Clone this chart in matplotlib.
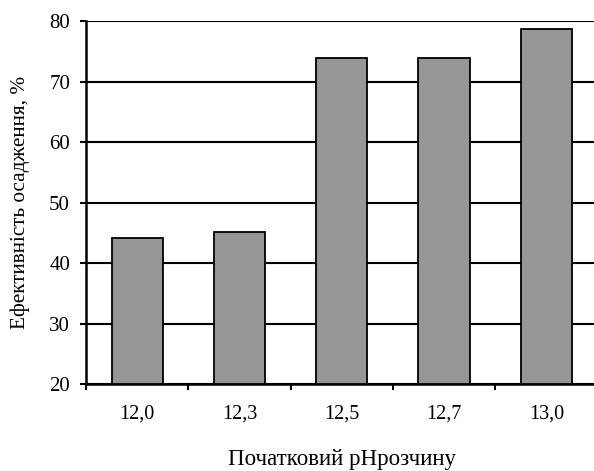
import matplotlib.pyplot as plt

# ------------------ DATA ------------------
ph_labels = ["12,0", "12,3", "12,5", "12,7", "13,0"]
efficiency = [44.1, 45.1, 73.9, 73.9, 78.7]
y_ticks = [20, 30, 40, 50, 60, 70, 80]

plt.rcParams['font.family'] = ['Liberation Serif', 'DejaVu Serif']

# ------------------ PLOT ------------------
fig = plt.figure(figsize=(5.94, 4.71), dpi=100)
ax = fig.add_axes([0.1448, 0.1847, 0.861, 0.7707])

x = list(range(len(ph_labels)))
ax.bar(x, [v - 20 for v in efficiency], bottom=20, width=0.5,
       color="#969696", edgecolor="black", linewidth=1.3, zorder=3)

ax.set_xlim(-0.5, len(ph_labels) - 0.5)
ax.set_ylim(20, 80)
ax.set_yticks(y_ticks)
ax.yaxis.grid(True, color="black", linewidth=1.5, zorder=0)
ax.set_axisbelow(True)

# category ticks sit between the bars
ax.set_xticks([i - 0.5 for i in range(len(ph_labels) + 1)])
ax.set_xticklabels([])
ax.set_xticks(x, minor=True)
ax.set_xticklabels(ph_labels, minor=True)
ax.tick_params(axis="x", which="minor", length=0, pad=15, labelsize=14.5)
ax.tick_params(axis="x", which="major", length=4, width=1.5, direction="out")
ax.tick_params(axis="y", length=4.5, width=1.5, direction="out", labelsize=15, pad=7)

for side in ["top", "right"]:
    ax.spines[side].set_visible(False)
for side in ["left", "bottom"]:
    ax.spines[side].set_linewidth(1.8)

ax.set_ylabel("Ефективність осадження, %", fontsize=15.3, labelpad=14)
ax.set_xlabel("Початковий рНрозчину", fontsize=16.5, labelpad=18)

fig.savefig("out.png", dpi=100)
